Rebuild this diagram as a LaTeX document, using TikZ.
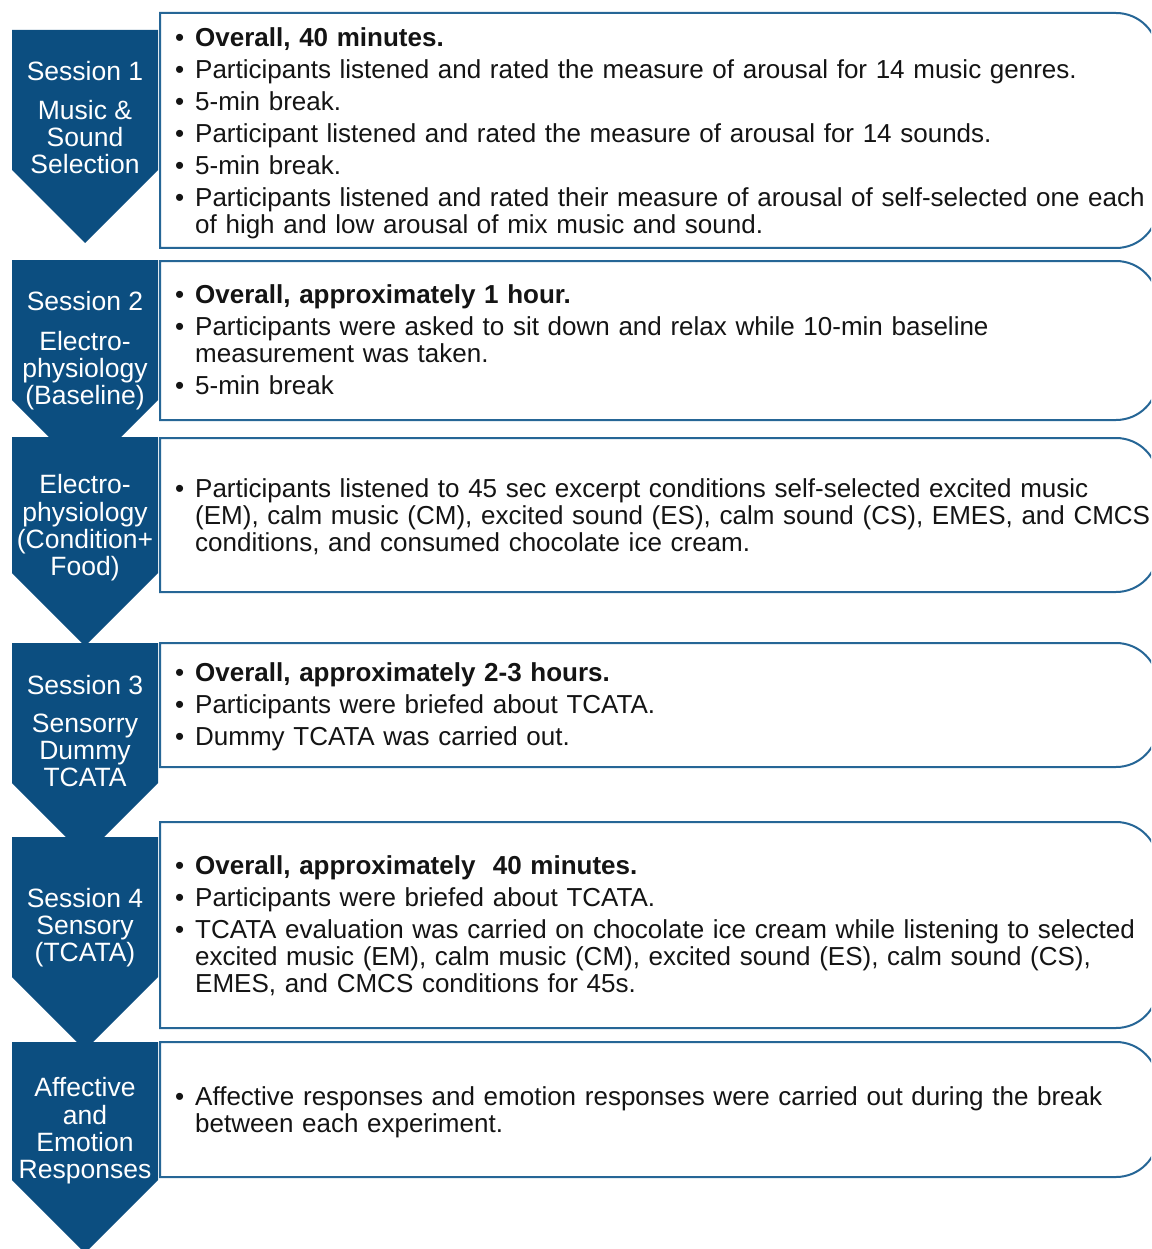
\documentclass[tikz,border=0pt]{standalone}
\usepackage{fontspec}
\setmainfont{Liberation Sans}
\definecolor{chev}{RGB}{12,78,128}
\definecolor{bord}{RGB}{38,102,150}
\definecolor{txt}{RGB}{20,20,20}
\begin{document}
\begin{tikzpicture}[x=1pt,y=-1pt,
  chevron/.style={fill=chev,draw=none},
  sbox/.style={draw=bord,line width=2pt,fill=white},
  btext/.style={anchor=north west,inner sep=0pt,text width=1100pt,align=left,text=txt,
    font=\fontsize{26}{27}\selectfont\setlength{\parskip}{5pt}},
  clabel/.style={anchor=north,inner sep=0pt,align=center,text=white,
    font=\fontsize{26.5}{27}\selectfont}]
\newcommand{\bl}{\leavevmode\llap{\textbullet\hspace{11pt}}}
\useasboundingbox (0,0) rectangle (1151,1249);
\begin{scope}
\clip (0,0) rectangle (1151,1249);
% chevrons
\foreach \t/\s in {30/170,260/400,437/573,643/783,837/977,1042/1180}{
  \fill[chevron] (12,\t) -- (158,\t) -- (158,\s) -- (85,\s+73) -- (12,\s) -- cycle;
}
% boxes
\foreach \t/\b in {13/248,261/420,438/592,643/767,822/1028,1042/1177}{
  \draw[sbox] (160,\b) -- (160,\t) [rounded corners=42pt] -- (1158,\t) -- (1158,\b) [sharp corners] -- cycle;
}
\end{scope}
% box texts
\node[btext] (t1) at (195,46-18.9) {\strut\bl\textbf{Overall, 40 minutes.}\par
\bl Participants listened and rated the measure of arousal for 14 music genres.\par
\bl 5-min break.\par
\bl Participant listened and rated the measure of arousal for 14 sounds.\par
\bl 5-min break.\par
\bl Participants listened and rated their measure of arousal of self-selected one each\newline of high and low arousal of mix music and sound.};
\node[btext] (t2) at (195,303-18.9) {\strut\bl\textbf{Overall, approximately 1 hour.}\par
\bl Participants were asked to sit down and relax while 10-min baseline\newline measurement was taken.\par
\bl 5-min break};
\node[btext] (t3) at (195,497-18.9) {\strut\bl Participants listened to 45 sec excerpt conditions self-selected excited music\newline (EM), calm music (CM), excited sound (ES), calm sound (CS), EMES, and CMCS\newline conditions, and consumed chocolate ice cream.};
\node[btext] (t4) at (195,681-18.9) {\strut\bl\textbf{Overall, approximately 2-3 hours.}\par
\bl Participants were briefed about TCATA.\par
\bl Dummy TCATA was carried out.};
\node[btext] (t5) at (195,874-18.9) {\strut\bl\textbf{Overall, approximately \ 40 minutes.}\par
\bl Participants were briefed about TCATA.\par
\bl TCATA evaluation was carried on chocolate ice cream while listening to selected\newline excited music (EM), calm music (CM), excited sound (ES), calm sound (CS),\newline EMES, and CMCS conditions for 45s.};
\node[btext] (t6) at (195,1105-18.9) {\strut\bl Affective responses and emotion responses were carried out during the break\newline between each experiment.};
% chevron labels
\node[clabel] (c1) at (85,80-18.9) {\strut Session 1\\[11pt]Music \&\\Sound\\Selection};
\node[clabel] (c2) at (85,310-18.9) {\strut Session 2\\[12pt]Electro-\\physiology\\(Baseline)};
\node[clabel] (c3) at (85,493-18.9) {\strut Electro-\\physiology\\(Condition+\\Food)};
\node[clabel] (c4) at (85,694-18.9) {\strut Session 3\\[11pt]Sensorry\\Dummy\\TCATA};
\node[clabel] (c5) at (85,907-18.9) {\strut Session 4\\Sensory\\(TCATA)};
\node[clabel] (c6) at (85,1096-18.9) {\strut Affective\\and\\Emotion\\Responses};
\end{tikzpicture}
\end{document}
